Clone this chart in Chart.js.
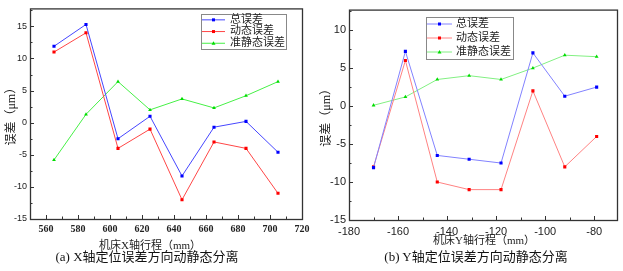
<!DOCTYPE html>
<html lang="zh">
<head>
  <meta charset="UTF-8">
  <title>定位误差方向动静态分离</title>
  <script src="https://cdn.jsdelivr.net/npm/chart.js"></script>
  <style>
    body {
      margin: 0;
      width: 623px;
      height: 271px;
      background: #fff;
      position: relative;
      overflow: hidden;
      font-family: "Liberation Serif", "Noto Sans CJK SC", serif;
    }
    canvas { position: absolute; top: 0; }
    #chartA { left: 0; }
    #chartB { left: 310px; }
    /* 图下方的标题 */
    .cap {
      position: absolute;
      top: 249px;
      font-size: 13px;
      line-height: 16px;
      white-space: nowrap;
      transform: translateX(-50%);
      color: #111;
    }
    /* X轴标题 */
    .xt {
      position: absolute;
      font-size: 11px;
      line-height: 12px;
      white-space: nowrap;
      transform: translateX(-50%);
      color: #222;
    }
  </style>
</head>
<body>
  <canvas id="chartA" width="315" height="250"></canvas>
  <canvas id="chartB" width="313" height="250"></canvas>
  <div class="xt" style="left:150px; top:239px">机床X轴行程（mm）</div>
  <div class="xt" style="left:484px; top:234px">机床Y轴行程（mm）</div>
  <div class="cap" style="left:147px">(a) X轴定位误差方向动静态分离</div>
  <div class="cap" style="left:476px">(b) Y轴定位误差方向动静态分离</div>

  <script>
    // 图例名称
    const seriesNames = ['总误差', '动态误差', '准静态误差'];

    // (a) X轴
    const xPosA = [565, 585, 605, 625, 645, 665, 685, 705];
    const totalA = [11.9, 15.3, -2.5, 1.0, -8.3, -0.7, 0.2, -4.6];
    const dynamicA = [11, 14, -4, -1, -12, -3, -4, -11];
    const staticA = [-5.8, 1.3, 6.4, 2.0, 3.7, 2.3, 4.2, 6.4];
    const xTicksA = [560, 580, 600, 620, 640, 660, 680, 700, 720];
    const yTicksA = [-15, -10, -5, 0, 5, 10, 15];

    // (b) Y轴
    const xPosB = [-170, -157, -144, -131, -118, -105, -92, -79];
    const totalB = [-8.1, 7.2, -6.5, -7.0, -7.5, 7.0, 1.3, 2.5];
    const dynamicB = [-8, 6, -10, -11, -11, 2, -8, -4];
    const staticB = [0.1, 1.2, 3.5, 4.0, 3.5, 5.0, 6.7, 6.5];
    const xTicksB = [-180, -160, -140, -120, -100, -80];
    const yTicksB = [-15, -10, -5, 0, 5, 10];

    const pts = (xs, ys) => xs.map((x, i) => ({ x: x, y: ys[i] }));

    // 边框 + 向内刻度（含次刻度）
    const frameTicks = {
      id: 'frameTicks',
      afterDraw(chart) {
        const { ctx, chartArea: a, scales } = chart;
        const x = scales.x, y = scales.y;
        ctx.save();
        ctx.strokeStyle = '#333';
        ctx.lineWidth = 1;
        const line = (x1, y1, x2, y2) => {
          ctx.beginPath(); ctx.moveTo(x1, y1); ctx.lineTo(x2, y2); ctx.stroke();
        };
        const xv = x.ticks.map(t => t.value);
        xv.forEach((v, i) => {
          const px = Math.round(x.getPixelForValue(v)) + 0.5;
          line(px, a.bottom, px, a.bottom - 4);
          if (i < xv.length - 1) {
            const pm = Math.round(x.getPixelForValue((v + xv[i + 1]) / 2)) + 0.5;
            line(pm, a.bottom, pm, a.bottom - 2.5);
          }
        });
        const yv = y.ticks.map(t => t.value);
        yv.forEach((v, i) => {
          const py = Math.round(y.getPixelForValue(v)) + 0.5;
          line(a.left, py, a.left + 4, py);
          const nxt = i < yv.length - 1 ? yv[i + 1] : v + (v - yv[i - 1]);
          const mv = (v + nxt) / 2;
          if (mv <= y.max) {
            const pm = Math.round(y.getPixelForValue(mv)) + 0.5;
            line(a.left, pm, a.left + 2.5, pm);
          }
        });
        ctx.lineWidth = 1.3;
        ctx.strokeRect(a.left + 0.5, a.top + 0.5, a.right - a.left, a.bottom - a.top);
        ctx.restore();
      }
    };

    // 图内带边框的图例
    const boxLegend = {
      id: 'boxLegend',
      afterDraw(chart, args, o) {
        const ctx = chart.ctx;
        ctx.save();
        ctx.fillStyle = '#fff';
        ctx.fillRect(o.x, o.y, o.w, o.h);
        ctx.strokeStyle = '#888';
        ctx.lineWidth = 1;
        ctx.strokeRect(o.x + 0.5, o.y + 0.5, o.w, o.h);
        ctx.font = o.font;
        ctx.textBaseline = 'middle';
        chart.data.datasets.forEach((ds, i) => {
          const cy = o.y + o.pad + o.row * (i + 0.5);
          ctx.strokeStyle = ds.borderColor;
          ctx.lineWidth = 1;
          ctx.beginPath();
          ctx.moveTo(o.x + 1, cy); ctx.lineTo(o.x + 1 + o.lineLen, cy);
          ctx.stroke();
          ctx.fillStyle = ds.pointBackgroundColor;
          const mx = o.x + 1 + o.lineLen / 2;
          if (ds.pointStyle === 'triangle') {
            ctx.beginPath();
            ctx.moveTo(mx, cy - 2); ctx.lineTo(mx + 2, cy + 1.5); ctx.lineTo(mx - 2, cy + 1.5);
            ctx.closePath(); ctx.fill();
          } else {
            ctx.fillRect(mx - 1.5, cy - 1.5, 3, 3);
          }
          ctx.fillStyle = '#222';
          ctx.fillText(ds.label, o.x + o.textX, cy);
        });
        ctx.restore();
      }
    };

    function makeChart(id, xs, series, lineCols, opts) {
      const dotCols = ['#0000ff', '#ff0000', '#00dd00'];
      const styles = ['rect', 'rect', 'triangle'];
      return new Chart(document.getElementById(id), {
        type: 'line',
        data: {
          datasets: series.map((s, i) => ({
            label: seriesNames[i],
            data: pts(xs, s),
            borderColor: lineCols[i],
            borderWidth: 1,
            pointStyle: styles[i],
            pointRadius: 2.2,
            pointBackgroundColor: dotCols[i],
            pointBorderColor: dotCols[i],
            pointBorderWidth: 0,
            tension: 0
          }))
        },
        options: {
          responsive: false,
          animation: false,
          layout: { padding: { top: 5, right: opts.padRight, left: 0, bottom: 0 } },
          plugins: {
            legend: { display: false },
            tooltip: { enabled: false },
            boxLegend: opts.legend
          },
          scales: {
            x: {
              type: 'linear',
              min: opts.xMin,
              max: opts.xMax,
              afterBuildTicks: s => { s.ticks = opts.xTicks.map(v => ({ value: v })); },
              afterFit: s => { s.height = opts.xHeight; },
              grid: { display: false, drawTicks: false },
              border: { display: false },
              ticks: { padding: opts.tickPadX, color: '#222', font: opts.xTickFont, maxRotation: 0 }
            },
            y: {
              min: -15,
              max: opts.yMax,
              afterBuildTicks: s => { s.ticks = opts.yTicks.map(v => ({ value: v })); },
              afterFit: s => { s.width = opts.yWidth; },
              grid: { display: false, drawTicks: false },
              border: { display: false },
              ticks: { padding: 3, color: '#222', font: opts.yTickFont },
              title: {
                display: true,
                text: '误差（μm）',
                color: '#222',
                padding: { top: opts.titlePadY, bottom: 0 },
                font: { family: '"Liberation Serif", "Noto Sans CJK SC", serif', size: 12 }
              }
            }
          }
        },
        plugins: [frameTicks, boxLegend]
      });
    }

    makeChart('chartA', xPosA, [totalA, dynamicA, staticA],
      ['rgb(70,70,255)', 'rgb(255,70,70)', 'rgb(70,240,70)'], {
        xMin: 550, xMax: 720, yMax: 17.8,
        xTicks: xTicksA, yTicks: yTicksA,
        padRight: 13, xHeight: 31, yWidth: 30,
        tickPadX: 4, titlePadY: 5,
        xTickFont: { family: '"Liberation Serif", serif', size: 10, weight: 'bold' },
        yTickFont: { family: '"Liberation Sans", sans-serif', size: 9 },
        legend: { x: 201, y: 14, w: 85, h: 35, pad: 0, row: 11.7, lineLen: 23, textX: 29, font: '11px "Liberation Serif", "Noto Sans CJK SC", serif' }
      });

    makeChart('chartB', xPosB, [totalB, dynamicB, staticB],
      ['rgb(130,130,255)', 'rgb(255,130,130)', 'rgb(130,240,130)'], {
        xMin: -180, xMax: -70.7, yMax: 12.7,
        xTicks: xTicksB, yTicks: yTicksB,
        padRight: 6, xHeight: 30, yWidth: 39,
        tickPadX: 5, titlePadY: 10,
        xTickFont: { family: '"Liberation Sans", sans-serif', size: 11 },
        yTickFont: { family: '"Liberation Sans", sans-serif', size: 11 },
        legend: { x: 116, y: 17, w: 87, h: 42, pad: 0, row: 14, lineLen: 25, textX: 30, font: '11px "Liberation Serif", "Noto Sans CJK SC", serif' }
      });
  </script>
</body>
</html>
